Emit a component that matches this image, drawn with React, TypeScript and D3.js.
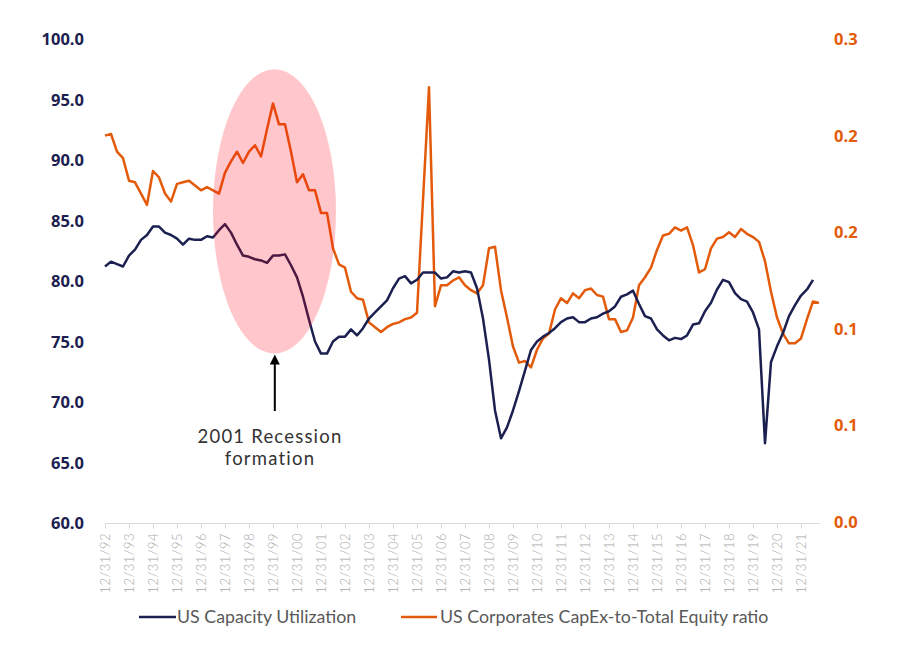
import React from "react";
import * as d3 from "d3";

// Quarterly observations starting Q4 1992
const capUtil = [
  81.2, 81.6, 81.4, 81.2, 82.1, 82.6, 83.4, 83.8, 84.5, 84.5,
  84.0, 83.8, 83.5, 83.0, 83.5, 83.4, 83.4, 83.7, 83.6, 84.2,
  84.7, 84.0, 83.0, 82.1, 82.0, 81.8, 81.7, 81.5, 82.1, 82.1,
  82.2, 81.3, 80.3, 78.7, 76.8, 75.0, 74.0, 74.0, 75.0, 75.4,
  75.4, 76.0, 75.5, 76.1, 76.9, 77.4, 77.9, 78.4, 79.4, 80.2,
  80.4, 79.8, 80.1, 80.7, 80.7, 80.7, 80.2, 80.3, 80.8, 80.7,
  80.8, 80.7, 79.4, 76.9, 73.5, 69.3, 67.0, 67.9, 69.3, 70.9,
  72.6, 74.3, 75.0, 75.4, 75.7, 76.1, 76.6, 76.9, 77.0, 76.6,
  76.6, 76.9, 77.0, 77.3, 77.5, 77.9, 78.7, 78.9, 79.2, 78.1,
  77.1, 76.9, 76.0, 75.5, 75.1, 75.3, 75.2, 75.5, 76.4, 76.5,
  77.5, 78.2, 79.3, 80.1, 79.9, 79.0, 78.5, 78.3, 77.4, 76.0,
  66.6, 73.3, 74.6, 75.7, 77.1, 78.0, 78.8, 79.3, 80.1,
];

const capexRatio = [
  0.240, 0.241, 0.230, 0.226, 0.212, 0.211, 0.204, 0.197, 0.218, 0.214,
  0.204, 0.199, 0.210, 0.211, 0.212, 0.209, 0.206, 0.208, 0.206, 0.204,
  0.217, 0.224, 0.230, 0.223, 0.230, 0.234, 0.227, 0.244, 0.260, 0.247,
  0.247, 0.230, 0.211, 0.216, 0.206, 0.206, 0.192, 0.192, 0.170, 0.160,
  0.158, 0.143, 0.139, 0.138, 0.124, 0.121, 0.118, 0.121, 0.123, 0.124,
  0.126, 0.127, 0.130, 0.200, 0.270, 0.134, 0.147, 0.147, 0.150, 0.152,
  0.147, 0.144, 0.142, 0.147, 0.170, 0.171, 0.144, 0.127, 0.109, 0.099,
  0.100, 0.096, 0.107, 0.114, 0.117, 0.132, 0.139, 0.136, 0.142, 0.139,
  0.144, 0.145, 0.141, 0.140, 0.126, 0.126, 0.118, 0.119, 0.127, 0.147,
  0.152, 0.158, 0.169, 0.178, 0.179, 0.183, 0.181, 0.183, 0.172, 0.155,
  0.157, 0.170, 0.176, 0.177, 0.180, 0.177, 0.182, 0.179, 0.177, 0.174,
  0.162, 0.143, 0.127, 0.117, 0.111, 0.111, 0.114, 0.126, 0.137, 0.136,
];

const xTickLabels = [
  "12/31/92", "12/31/93", "12/31/94", "12/31/95", "12/31/96", "12/31/97",
  "12/31/98", "12/31/99", "12/31/00", "12/31/01", "12/31/02", "12/31/03",
  "12/31/04", "12/31/05", "12/31/06", "12/31/07", "12/31/08", "12/31/09",
  "12/31/10", "12/31/11", "12/31/12", "12/31/13", "12/31/14", "12/31/15",
  "12/31/16", "12/31/17", "12/31/18", "12/31/19", "12/31/20", "12/31/21",
];

const leftTicks = [60, 65, 70, 75, 80, 85, 90, 95, 100];
const rightTicks = [0, 0.06, 0.12, 0.18, 0.24, 0.3];

const seriesNames = ["US Capacity Utilization", "US Corporates CapEx-to-Total Equity ratio"];
const annotationLines = ["2001 Recession", "formation"];

const NAVY = "#1b2050";
const ORANGE = "#e35b0a";

export default function App() {
  const W = 900;
  const H = 652;
  const x = d3.scaleLinear().domain([0, 119]).range([105, 819]);
  const yL = d3.scaleLinear().domain([60, 100]).range([523, 39]);
  const yR = d3.scaleLinear().domain([0, 0.3]).range([522, 39]);

  const lineL = d3.line<number>().x((_, i) => x(i)).y((d) => yL(d));
  const lineR = d3.line<number>().x((_, i) => x(i)).y((d) => yR(d));

  const fmtL = d3.format(".1f");
  const fmtR = d3.format(".1f");

  const ex0 = x(18);
  const ex1 = x(38.5);
  const ey0 = yL(97.5);
  const ey1 = yL(74);
  const arrowX = x(28.3);

  return (
    <svg
      width={W}
      height={H}
      style={{ position: "absolute", left: 0, top: 0, background: "#fff" }}
      fontFamily="'Open Sans', sans-serif"
    >
      {/* x axis */}
      <line x1={x(0)} x2={x(119) + 1} y1={523.5} y2={523.5} stroke="#d9d9d9" strokeWidth={1} />
      {xTickLabels.map((lab, k) => {
        const xx = Math.round(x(k * 4)) + 0.5;
        return (
          <g key={lab}>
            <line x1={xx} x2={xx} y1={523.5} y2={528.5} stroke="#d9d9d9" />
            <text
              transform={`translate(${xx + 4.5},533) rotate(-90)`}
              textAnchor="end"
              fontSize={13}
              fontWeight={300}
              letterSpacing={0.5}
              fill="#a9a9a9"
              fontFamily="Lato, sans-serif"
            >
              {lab}
            </text>
          </g>
        );
      })}

      {/* left axis labels */}
      {leftTicks.map((t) => (
        <text
          key={"l" + t}
          x={84}
          y={yL(t) + 6}
          textAnchor="end"
          fontSize={16.5}
          fontWeight={700}
          fill={NAVY}
        >
          {fmtL(t)}
        </text>
      ))}
      {/* right axis labels */}
      {rightTicks.map((t) => (
        <text
          key={"r" + t}
          x={834}
          y={yR(t) + 6}
          textAnchor="start"
          fontSize={16.5}
          fontWeight={700}
          fill={ORANGE}
        >
          {fmtR(t)}
        </text>
      ))}

      {/* series */}
      <path d={lineR(capexRatio) || ""} fill="none" stroke={ORANGE} strokeWidth={2.5} strokeLinejoin="round" />
      <path d={lineL(capUtil) || ""} fill="none" stroke={NAVY} strokeWidth={2.5} strokeLinejoin="round" />

      {/* recession highlight */}
      <ellipse
        cx={(ex0 + ex1) / 2}
        cy={(ey0 + ey1) / 2}
        rx={(ex1 - ex0) / 2}
        ry={(ey1 - ey0) / 2}
        fill="rgb(255,0,20)"
        fillOpacity={0.22}
      />
      <line x1={arrowX} x2={arrowX} y1={411} y2={362} stroke="#000" strokeWidth={2} />
      <path
        d={`M${arrowX},${ey1 + 1} L${arrowX - 5},${ey1 + 11} L${arrowX + 5},${ey1 + 11} Z`}
        fill="#000"
      />
      {annotationLines.map((s, k) => (
        <text
          key={s}
          x={270}
          y={443 + k * 22}
          textAnchor="middle"
          fontSize={18.5}
          letterSpacing={1.2}
          fill="#333"
          fontFamily="Lato, sans-serif"
        >
          {s}
        </text>
      ))}

      {/* legend */}
      <line x1={139} x2={176} y1={617} y2={617} stroke={NAVY} strokeWidth={2.5} />
      <text x={177} y={623} fontSize={17.8} fill="#595959" fontFamily="Lato, sans-serif">
        {seriesNames[0]}
      </text>
      <line x1={401} x2={437} y1={617} y2={617} stroke={ORANGE} strokeWidth={2.5} />
      <text x={440} y={623} fontSize={17.8} fill="#595959" fontFamily="Lato, sans-serif">
        {seriesNames[1]}
      </text>
    </svg>
  );
}
